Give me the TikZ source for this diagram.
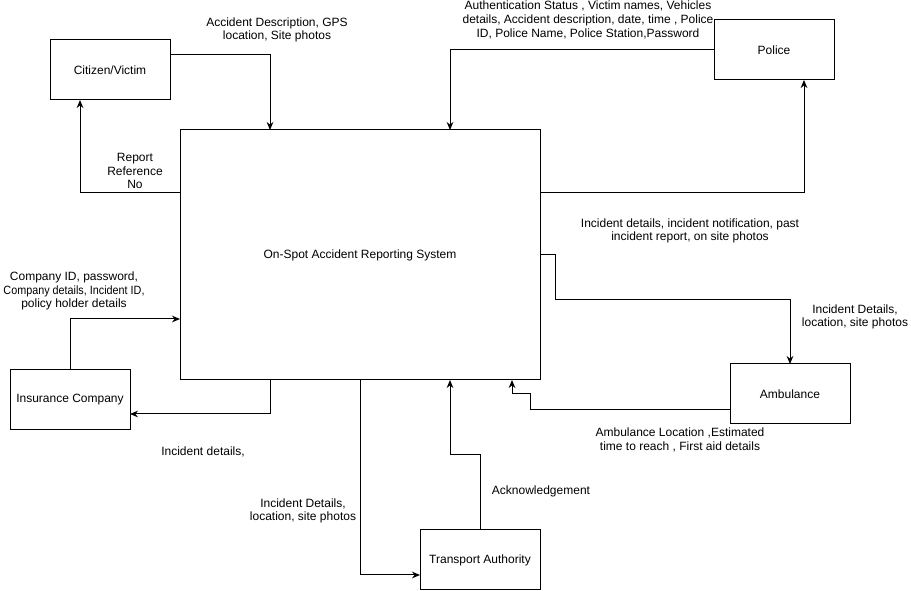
\documentclass[tikz,border=0pt]{standalone}
\usepackage{fontspec}
\setmainfont{Liberation Sans}
\usetikzlibrary{arrows.meta}
\begin{document}
\begin{tikzpicture}[x=0.75pt,y=-0.75pt,
  every node/.style={font=\fontsize{9}{10.3}\selectfont},
  box/.style={draw, line width=0.75pt, outer sep=0pt, inner sep=0pt, minimum width=90pt, minimum height=45pt, align=center},
  lbl/.style={inner sep=0pt, align=center},
  arr/.style={line width=0.75pt, -{Stealth[length=6pt,width=5pt]}}]
\useasboundingbox (0,0) rectangle (911,591);
% boxes
\node[box, minimum width=270pt, minimum height=187.5pt] (main) at (360,255) {On-Spot Accident Reporting System};
\node[box] (cit) at (110,70) {Citizen/Victim};
\node[box] (pol) at (774,50) {Police};
\node[box] (ins) at (70,400) {Insurance Company};
\node[box] (amb) at (790,394) {Ambulance};
\node[box] (ta) at (480,560) {Transport Authority};
% labels
\node[lbl] (l1) at (277,30) {Accident Description, GPS\\location, Site photos};
\node[lbl] (l2) at (135,171) {Report\\Reference\\No};
\node[lbl] (l3) at (588,20) {Authentication Status , Victim names, Vehicles\\details, Accident description, date, time , Police\\ID, Police Name, Police Station,Password};
\node[lbl] (l4) at (690,231) {Incident details, incident notification, past\\incident report, on site photos};
\node[lbl] (l5) at (74,291) {Company ID, password,\\\scalebox{0.9}[1]{Company details, Incident ID,}\\policy holder details};
\node[lbl] (l6) at (203,452) {Incident details,};
\node[lbl] (l7) at (303,511) {Incident Details,\\location, site photos};
\node[lbl] (l8) at (541,491) {Acknowledgement};
\node[lbl] (l9) at (855,317) {Incident Details,\\location, site photos};
\node[lbl] (l10) at (680,440) {Ambulance Location ,Estimated\\time to reach , First aid details};
% connectors
\draw[arr] (cit.east |- 0,55) -| (main.north -| 270,0);
\draw[arr] (pol.west |- 0,50) -| (main.north -| 450,0);
\draw[arr] (main.west |- 0,193) -| (cit.south -| 80,0);
\draw[arr] (main.east |- 0,193) -| (pol.south -| 804,0);
\draw[arr] (main.east |- 0,255) -| (555,300) -| (amb.north -| 790,0);
\draw[arr] (amb.west |- 0,410) -| (530,394) -| (main.south -| 512,0);
\draw[arr] (ins.north -| 70,0) |- (main.west |- 0,319);
\draw[arr] (main.south -| 270,0) |- (ins.east |- 0,414);
\draw[arr] (main.south -| 360,0) |- (ta.west |- 0,575);
\draw[arr] (ta.north -| 480,0) |- (450,455) -- (main.south -| 450,0);
\end{tikzpicture}
\end{document}
